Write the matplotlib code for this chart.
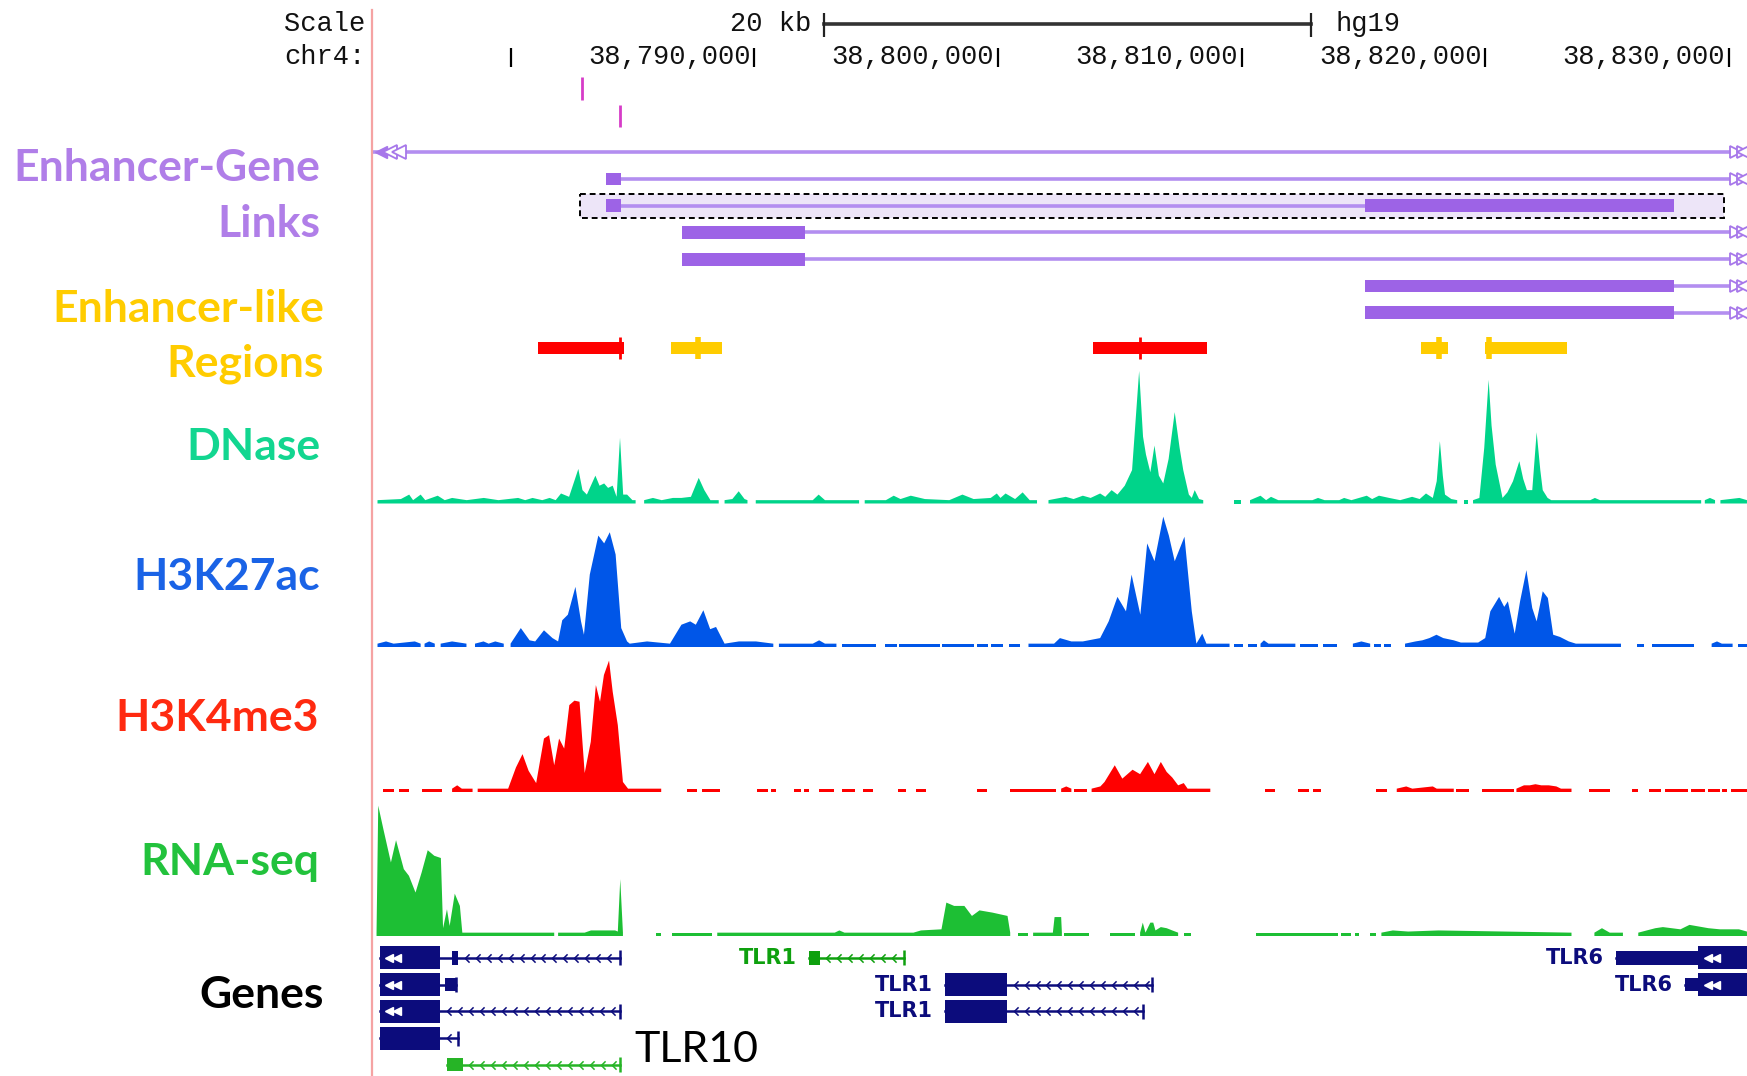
import numpy as np
import matplotlib
matplotlib.use("Agg")
import matplotlib.pyplot as plt
from matplotlib.patches import Rectangle
from matplotlib.path import Path
from matplotlib.lines import Line2D

GAP = (np.nan, np.nan)

# ---- data: positions in kb on chr4 (hg19), signal heights in track pixels ----
view_kb = (38774.314, 38830.731)
ruler_ticks = [38780, 38790, 38800, 38810, 38820, 38830]
ruler_labelled = [38790, 38800, 38810, 38820, 38830]
scale_start, scale_len = 38792.86, 20

ccre_marks = [38782.92, 38784.47]

# enhancer-gene links: one row each, box a (enhancer) -> box b (gene)
link_a0 = [38773.0, 38783.90, 38783.90, 38787.05, 38787.05, 38815.05, 38815.05]
link_a1 = [38773.5, 38784.54, 38784.54, 38792.08, 38792.08, 38827.72, 38827.72]
link_b0 = [38832.0, 38832.0, 38815.05, 38832.0, 38832.0, 38832.0, 38832.0]
link_b1 = [38833.0, 38833.0, 38827.72, 38833.0, 38833.0, 38833.0, 38833.0]
link_selected = 2
selected_span = (38782.86, 38829.78)

# enhancer-like regions
enh_start = [38781.14, 38786.58, 38803.88, 38817.35, 38819.99]
enh_end = [38784.66, 38788.68, 38808.58, 38818.45, 38823.36]
enh_peak = [38784.49, 38787.69, 38805.82, 38818.10, 38820.16]
enh_kind = ["red", "yellow", "red", "yellow", "yellow"]

dnase = [
    (38774.54, 3), (38775.5, 4), (38775.84, 8), (38776.0, 3), (38776.31, 8), (38776.5, 3),
    (38777.01, 7), (38777.3, 3), (38777.60, 5), (38778.2, 3), (38778.90, 5), (38779.5, 3),
    (38780.31, 5), (38780.6, 3), (38780.90, 5), (38781.3, 3), (38781.60, 5), (38781.85, 3),
    (38782.07, 9), (38782.4, 6), (38782.78, 31), (38782.95, 12), (38783.13, 8), (38783.48, 25),
    (38783.65, 16), (38783.84, 18), (38784.0, 14), (38784.19, 16), (38784.35, 6), (38784.49, 59),
    (38784.62, 8), (38784.78, 8), (38785.0, 3), (38785.13, 3),
    GAP,
    (38785.48, 3), (38785.84, 5), (38786.2, 3), (38786.66, 5), (38787.01, 5), (38787.4, 6),
    (38787.72, 23), (38787.95, 12), (38788.2, 3), (38788.54, 3),
    GAP,
    (38788.78, 3), (38789.1, 4), (38789.36, 11), (38789.6, 4), (38789.72, 3),
    GAP,
    (38790.06, 3), (38792.4, 3), (38792.64, 8), (38792.9, 3), (38794.30, 3),
    GAP,
    (38794.53, 3), (38795.4, 3), (38795.72, 7), (38796.0, 4), (38796.42, 7), (38797.0, 4),
    (38798.0, 3), (38798.54, 8), (38799.0, 4), (38799.7, 5), (38799.95, 9), (38800.1, 5),
    (38800.31, 9), (38800.7, 4), (38801.01, 10), (38801.3, 3), (38801.60, 3),
    GAP,
    (38802.07, 3), (38802.78, 6), (38803.1, 4), (38803.48, 7), (38803.8, 5), (38804.19, 9),
    (38804.4, 6), (38804.66, 12), (38804.9, 8), (38805.2, 16), (38805.5, 30), (38805.79, 119),
    (38805.95, 60), (38806.07, 44), (38806.25, 28), (38806.42, 52), (38806.6, 25), (38806.78, 18),
    (38807.0, 40), (38807.25, 82), (38807.45, 50), (38807.6, 30), (38807.83, 8), (38807.95, 5),
    (38808.07, 12), (38808.25, 4), (38808.42, 3),
    GAP,
    (38809.69, 3), (38809.98, 3),
    GAP,
    (38810.34, 3), (38810.77, 7), (38811.0, 3), (38811.2, 6), (38811.5, 3), (38812.9, 3),
    (38813.13, 5), (38813.4, 3), (38814.0, 3), (38814.2, 5), (38814.5, 3), (38815.13, 7),
    (38815.35, 4), (38815.63, 7), (38816.05, 5), (38816.5, 3), (38816.99, 6), (38817.3, 4),
    (38817.56, 9), (38817.84, 5), (38818.0, 20), (38818.13, 56), (38818.25, 25), (38818.34, 8),
    (38818.6, 4), (38818.84, 3),
    GAP,
    (38819.13, 3), (38819.27, 3),
    GAP,
    (38819.49, 3), (38819.75, 5), (38819.95, 50), (38820.13, 111), (38820.25, 70), (38820.42, 35),
    (38820.7, 5), (38820.9, 10), (38821.13, 20), (38821.39, 38), (38821.55, 22), (38821.7, 12),
    (38821.92, 12), (38822.1, 64), (38822.25, 30), (38822.35, 12), (38822.55, 5), (38822.7, 3),
    (38824.3, 3), (38824.49, 5), (38824.7, 3), (38828.85, 3),
    GAP,
    (38829.0, 3), (38829.21, 5), (38829.42, 3),
    GAP,
    (38829.64, 3), (38830.42, 5), (38830.73, 3),
]

h3k27ac = [
    (38774.54, 3), (38774.89, 5), (38775.2, 3), (38776.07, 5), (38776.31, 3),
    GAP,
    (38776.47, 3), (38776.66, 5), (38776.89, 3),
    GAP,
    (38777.13, 3), (38777.60, 5), (38778.19, 3),
    GAP,
    (38778.54, 3), (38778.89, 5), (38779.1, 3), (38779.37, 5), (38779.72, 3),
    GAP,
    (38780.0, 3), (38780.42, 17), (38780.78, 6), (38781.01, 5), (38781.37, 15), (38781.72, 8),
    (38781.95, 5), (38782.12, 24), (38782.35, 29), (38782.66, 54), (38782.89, 23), (38783.01, 11),
    (38783.25, 65), (38783.6, 100), (38783.84, 93), (38784.07, 103), (38784.31, 83), (38784.54, 17),
    (38784.78, 5), (38784.89, 3), (38785.6, 5), (38786.54, 3), (38787.01, 20), (38787.37, 23),
    (38787.6, 20), (38787.91, 33), (38788.19, 16), (38788.43, 18), (38788.78, 3), (38789.37, 5),
    (38790.07, 5), (38790.78, 3),
    GAP,
    (38791.01, 3), (38792.4, 3), (38792.66, 6), (38792.9, 3), (38793.37, 3),
    GAP,
    (38793.60, 3), (38795.01, 3),
    GAP,
    (38795.37, 3), (38795.84, 3),
    GAP,
    (38795.95, 3), (38797.6, 3),
    GAP,
    (38797.72, 3), (38799.01, 3),
    GAP,
    (38799.13, 3), (38799.6, 3),
    GAP,
    (38799.72, 3), (38800.19, 3),
    GAP,
    (38800.43, 3), (38800.9, 3),
    GAP,
    (38801.25, 3), (38802.3, 3), (38802.54, 8), (38803.01, 5), (38803.48, 5), (38804.19, 8),
    (38804.54, 23), (38804.9, 45), (38805.25, 32), (38805.48, 65), (38805.84, 29), (38806.12, 93),
    (38806.42, 77), (38806.78, 117), (38807.01, 100), (38807.25, 77), (38807.65, 99), (38807.95, 32),
    (38808.14, 3), (38808.38, 12), (38808.55, 3), (38809.5, 3),
    GAP,
    (38809.69, 3), (38810.05, 3),
    GAP,
    (38810.27, 3), (38810.62, 3),
    GAP,
    (38810.77, 3), (38810.91, 6), (38811.1, 3), (38812.2, 3),
    GAP,
    (38812.41, 3), (38813.13, 3),
    GAP,
    (38813.34, 3), (38813.91, 3),
    GAP,
    (38814.56, 3), (38814.91, 5), (38815.27, 3),
    GAP,
    (38815.41, 3), (38815.70, 3),
    GAP,
    (38815.84, 3), (38816.13, 3),
    GAP,
    (38816.7, 3), (38817.13, 5), (38817.41, 6), (38817.7, 8), (38817.99, 11), (38818.27, 8),
    (38818.7, 6), (38818.99, 4), (38819.7, 4), (38819.99, 8), (38820.2, 32), (38820.56, 45),
    (38820.77, 36), (38820.92, 41), (38821.2, 12), (38821.42, 41), (38821.68, 69), (38821.92, 35),
    (38822.1, 23), (38822.35, 50), (38822.56, 44), (38822.78, 11), (38823.06, 9), (38823.42, 5),
    (38823.71, 3), (38825.56, 3),
    GAP,
    (38826.21, 3), (38826.49, 3),
    GAP,
    (38826.85, 3), (38828.57, 3),
    GAP,
    (38829.28, 3), (38829.5, 5), (38829.7, 3), (38830.14, 3),
    GAP,
    (38830.35, 3), (38830.73, 3),
]

h3k4me3 = [
    (38774.78, 3), (38775.2, 3),
    GAP,
    (38775.41, 3), (38775.83, 3),
    GAP,
    (38776.35, 3), (38777.19, 3),
    GAP,
    (38777.6, 3), (38777.81, 6), (38778.0, 3), (38778.44, 3),
    GAP,
    (38778.65, 3), (38779.9, 3), (38780.22, 22), (38780.49, 34), (38780.74, 19), (38781.05, 8),
    (38781.37, 48), (38781.58, 51), (38781.79, 24), (38781.99, 48), (38782.2, 39), (38782.41, 78),
    (38782.62, 82), (38782.83, 81), (38783.04, 17), (38783.29, 45), (38783.5, 96), (38783.67, 81),
    (38783.83, 105), (38784.04, 118), (38784.19, 90), (38784.4, 60), (38784.61, 9), (38784.82, 3),
    (38786.18, 3),
    GAP,
    (38787.22, 3), (38787.64, 3),
    GAP,
    (38787.85, 3), (38788.58, 3),
    GAP,
    (38790.11, 3), (38790.57, 3),
    GAP,
    (38790.67, 3), (38790.88, 3),
    GAP,
    (38791.61, 3), (38791.93, 3),
    GAP,
    (38792.03, 3), (38792.24, 3),
    GAP,
    (38792.66, 3), (38793.29, 3),
    GAP,
    (38793.60, 3), (38794.12, 3),
    GAP,
    (38794.44, 3), (38794.85, 3),
    GAP,
    (38795.90, 3), (38796.21, 3),
    GAP,
    (38796.63, 3), (38797.05, 3),
    GAP,
    (38799.14, 3), (38799.56, 3),
    GAP,
    (38800.5, 3), (38802.38, 3),
    GAP,
    (38802.59, 3), (38802.8, 5), (38803.01, 3),
    GAP,
    (38803.11, 3), (38803.64, 3),
    GAP,
    (38803.84, 3), (38804.2, 5), (38804.37, 9), (38804.79, 24), (38805.1, 12), (38805.52, 20),
    (38805.83, 16), (38806.15, 27), (38806.42, 16), (38806.68, 27), (38806.92, 18), (38807.15, 13),
    (38807.39, 6), (38807.62, 8), (38807.78, 3), (38808.71, 3),
    GAP,
    (38810.97, 3), (38811.36, 3),
    GAP,
    (38812.30, 3), (38812.77, 3),
    GAP,
    (38812.92, 3), (38813.24, 3),
    GAP,
    (38815.50, 3), (38815.97, 3),
    GAP,
    (38816.36, 3), (38816.75, 5), (38817.0, 3), (38817.84, 5), (38818.0, 3), (38818.70, 3),
    GAP,
    (38818.78, 3), (38819.32, 3),
    GAP,
    (38819.87, 3), (38821.19, 3),
    GAP,
    (38821.27, 3), (38821.58, 6), (38821.82, 6), (38822.05, 7), (38822.29, 6), (38822.6, 6),
    (38822.91, 5), (38823.1, 3), (38823.53, 3),
    GAP,
    (38824.24, 3), (38825.10, 3),
    GAP,
    (38826.03, 3), (38826.27, 3),
    GAP,
    (38826.73, 3), (38827.20, 3),
    GAP,
    (38827.36, 3), (38828.29, 3),
    GAP,
    (38828.45, 3), (38828.99, 3),
    GAP,
    (38829.15, 3), (38829.62, 3),
    GAP,
    (38829.70, 3), (38829.93, 3),
    GAP,
    (38830.09, 3), (38830.73, 3),
]

rnaseq = [
    (38774.50, 3), (38774.57, 117), (38774.78, 96), (38775.09, 66), (38775.30, 86), (38775.62, 60),
    (38775.83, 54), (38776.10, 39), (38776.35, 57), (38776.60, 77), (38776.87, 72), (38777.14, 70),
    (38777.23, 7), (38777.39, 24), (38777.50, 9), (38777.71, 38), (38777.92, 27), (38778.02, 3),
    (38781.79, 3),
    GAP,
    (38781.95, 3), (38783.04, 3), (38783.3, 5), (38784.29, 5), (38784.40, 4), (38784.50, 51),
    (38784.61, 3),
    GAP,
    (38785.97, 3), (38786.18, 3),
    GAP,
    (38786.64, 3), (38788.27, 3),
    GAP,
    (38788.48, 3), (38793.3, 3), (38793.49, 5), (38793.7, 3), (38796.53, 3), (38796.84, 5),
    (38797.68, 6), (38797.88, 30), (38798.2, 27), (38798.62, 27), (38798.93, 18), (38799.24, 23),
    (38799.77, 21), (38800.39, 18), (38800.5, 3),
    GAP,
    (38800.81, 3), (38801.23, 3),
    GAP,
    (38801.44, 3), (38802.25, 3), (38802.32, 17), (38802.59, 17), (38802.62, 3),
    GAP,
    (38802.69, 3), (38803.74, 3),
    GAP,
    (38804.58, 3), (38805.62, 3),
    GAP,
    (38805.83, 3), (38805.94, 12), (38806.05, 3), (38806.25, 12), (38806.37, 12), (38806.46, 5),
    (38806.68, 8), (38806.92, 7), (38807.15, 5), (38807.39, 3),
    GAP,
    (38807.62, 3), (38807.93, 3),
    GAP,
    (38810.58, 3), (38813.94, 3),
    GAP,
    (38814.09, 3), (38814.48, 3),
    GAP,
    (38814.64, 3), (38814.80, 3),
    GAP,
    (38815.27, 3), (38815.50, 3),
    GAP,
    (38815.73, 3), (38816.2, 5), (38816.83, 4), (38818.07, 5), (38823.53, 3),
    GAP,
    (38824.47, 3), (38824.78, 7), (38825.1, 3), (38825.64, 3),
    GAP,
    (38826.27, 3), (38826.97, 7), (38827.28, 8), (38828.0, 6), (38828.37, 10), (38829.15, 7),
    (38829.62, 6), (38830.40, 6), (38830.73, 4),
]

# genes (minus strand)
tx_row = [0, 1, 2, 3, 4, 0, 1, 2, 0, 1]
tx_start = [38774.66, 38774.66, 38774.66, 38774.66, 38777.40, 38792.23, 38797.81, 38797.81, 38825.34, 38828.17]
tx_end = [38784.49, 38777.76, 38784.49, 38777.85, 38784.49, 38796.16, 38806.31, 38805.94, 38831.5, 38831.5]
tx_thick = [[(38774.66, 38777.12)], [(38774.66, 38777.12)], [(38774.66, 38777.12)], [(38774.66, 38777.12)],
            [], [], [(38797.81, 38800.37)], [(38797.81, 38800.37)],
            [(38828.72, 38831.5)], [(38828.72, 38831.5)]]
tx_utr = [[(38777.58, 38777.85)], [(38777.31, 38777.76)], [], [], [(38777.40, 38778.04)],
          [(38792.23, 38792.68)], [], [], [(38825.34, 38828.72)], [(38828.17, 38828.72)]]
tx_label = [None, None, None, None, None, "TLR1", "TLR1", "TLR1", "TLR6", "TLR6"]
tx_kind = ["navy", "navy", "navy", "navy", "lightgreen", "green", "navy", "navy", "navy", "navy"]
tx_exon_arrows = [True, True, True, False, False, False, False, False, True, True]

track_labels = [("Enhancer-Gene", 320, 181, "#b07ee8"), ("Links", 320, 237, "#b07ee8"),
                ("Enhancer-like", 324, 322, "#ffcc00"), ("Regions", 324, 377, "#ffcc00"),
                ("DNase", 320, 460, "#12d690"), ("H3K27ac", 320, 590, "#1a63e6"),
                ("H3K4me3", 319, 731, "#ff2a10"), ("RNA-seq", 319, 875, "#22c23c"),
                ("Genes", 324, 1008, "black")]

# ---- styles ----
colors = {"navy": "#0c0c7c", "green": "#0ea00e", "lightgreen": "#26b426",
          "red": "#ff0000", "yellow": "#ffcc00"}
W, H = 1747, 1076
LEFT = 372

fig = plt.figure(figsize=(W / 100, H / 100), dpi=100)


def kb_axes(top, bottom):
    ax = fig.add_axes([LEFT / W, 1 - bottom / H, 1 - LEFT / W, (bottom - top) / H])
    ax.set_xlim(*view_kb)
    ax.axis("off")
    return ax


mono = "Liberation Mono"

# ruler
ax = kb_axes(0, 75)
ax.set_ylim(75, 0)
ax.vlines(ruler_ticks, 48, 67, color="black", lw=1.6)
for t in ruler_labelled:
    ax.annotate(f"{t * 1000:,}", (t, 64), xytext=(-4, 0), textcoords="offset pixels",
                ha="right", va="baseline", family=mono, fontsize=19.5, color="#111")
ax.plot([scale_start, scale_start + scale_len], [24, 24], color="#333", lw=2.6)
ax.vlines([scale_start, scale_start + scale_len], 13, 37, color="#222", lw=1.6)
ax.annotate(f"{scale_len} kb", (scale_start, 31), xytext=(-13, 0), textcoords="offset pixels",
            ha="right", va="baseline", family=mono, fontsize=19.5, color="#111")
ax.annotate("hg19", (scale_start + scale_len, 31), xytext=(24, 0), textcoords="offset pixels",
            ha="left", va="baseline", family=mono, fontsize=19.5, color="#111")
fig.text(365 / W, 1 - 31 / H, "Scale", ha="right", va="baseline", family=mono, fontsize=19.5, color="#111")
fig.text(365 / W, 1 - 64 / H, "chr4:", ha="right", va="baseline", family=mono, fontsize=19.5, color="#111")

# small magenta marks
ax = kb_axes(72, 132)
ax.set_ylim(1.6, -0.6)
for i, p in enumerate(ccre_marks):
    ax.vlines(p, i - 0.4, i + 0.42, color="#d63cc8", lw=2)

# enhancer-gene links
ax = kb_axes(139, 326)
ax.set_ylim(6.5, -0.5)
ax.add_patch(Rectangle((selected_span[0], link_selected - 0.45), selected_span[1] - selected_span[0], 0.9,
                       facecolor="#ede5f8", edgecolor="black", lw=1.4, ls=(0, (3, 2)), zorder=0))
for i in range(len(link_a0)):
    ax.plot([link_a1[i], link_b0[i]], [i, i], color="#b38ef0", lw=2.6, solid_capstyle="butt", zorder=2)
    for x0, x1 in [(link_a0[i], link_a1[i]), (link_b0[i], link_b1[i])]:
        ax.add_patch(Rectangle((x0, i - 0.24), x1 - x0, 0.48, color="#9d63e6", lw=0, zorder=3))
    if link_b0[i] > view_kb[1]:
        ax.plot([view_kb[1] - 0.45, view_kb[1] - 0.15], [i, i], ls="none", marker=">", ms=9,
                mfc="white", mec="#a777ea", mew=1.3, zorder=4, clip_on=False)
        ax.plot([view_kb[1] - 0.15], [i], ls="none", marker="<", ms=9,
                mfc="white", mec="#a777ea", mew=1.3, zorder=4, clip_on=False)
    if link_a1[i] < view_kb[0]:
        ax.plot([view_kb[0] + 0.35], [i], ls="none", marker="<", ms=8, color="#a777ea", zorder=4)
        ax.plot([view_kb[0] + 0.75, view_kb[0] + 1.1], [i, i], ls="none", marker="<", ms=10,
                mfc="white", mec="#a777ea", mew=1.3, zorder=4)

# enhancer-like regions
ax = kb_axes(334, 362)
ax.set_ylim(0.5, -0.5)
for s, e, p, k in zip(enh_start, enh_end, enh_peak, enh_kind):
    ax.add_patch(Rectangle((s, -0.21), e - s, 0.42, color=colors[k], lw=0))
    ax.vlines(p, -0.38, 0.38, color=colors[k], lw=2 if k == "red" else 4)

# signal tracks
for data, base, col in [(dnase, 503.5, "#00d48a"), (h3k27ac, 647, "#0056e8"),
                        (h3k4me3, 792, "#ff0000"), (rnaseq, 936, "#1dbf34")]:
    ax = kb_axes(base - 140, base)
    ax.set_ylim(0, 140 * 0.8975)
    arr = np.array(data, dtype=float)
    ax.fill_between(arr[:, 0], 0, arr[:, 1], color=col, lw=0)

# genes
ax = kb_axes(944.6, 1076)
ax.set_ylim(4.42, -0.5)
chev = Path([(0.5, 1), (-0.5, 0), (0.5, -1)], [Path.MOVETO, Path.LINETO, Path.LINETO])
for i in range(len(tx_row)):
    r, c = tx_row[i], colors[tx_kind[i]]
    ax.plot([tx_start[i], tx_end[i]], [r, r], color=c, lw=1.8, zorder=2)
    boxes = sorted(tx_thick[i] + tx_utr[i])
    for x0, x1 in tx_thick[i]:
        ax.add_patch(Rectangle((x0, r - 0.43), x1 - x0, 0.86, color=c, lw=0, zorder=3))
    for x0, x1 in tx_utr[i]:
        ax.add_patch(Rectangle((x0, r - 0.25), x1 - x0, 0.5, color=c, lw=0, zorder=3))
    # strand chevrons on the bare stretches
    edges = [tx_start[i]] + [v for b in boxes for v in b] + [tx_end[i]]
    for a, b in zip(edges[0::2], edges[1::2]):
        if b - a > 0.7:
            xs = np.arange(a + 0.35, b - 0.15, 0.45)
            ax.plot(xs, [r] * len(xs), ls="none", marker=chev, ms=6, mfc="none", mec=c, mew=1.1, zorder=4)
    if tx_end[i] < view_kb[1]:
        ax.vlines(tx_end[i], r - 0.28, r + 0.28, color=c, lw=1.8, zorder=4)
    if tx_exon_arrows[i]:
        for x0, x1 in tx_thick[i]:
            ax.plot([x0 + 0.4, x0 + 0.75] if x0 > 38820 else [x0 + 0.35, x0 + 0.7], [r, r], ls="none",
                    marker="<", ms=6, color="white", zorder=5)
    if tx_label[i]:
        ax.annotate(tx_label[i], (tx_start[i], r), xytext=(-12, 0), textcoords="offset pixels",
                    ha="right", va="center", family="DejaVu Sans", fontweight="bold",
                    fontsize=15, color=c)
ax.text(38785.08, 3.88, "TLR10", ha="left", va="baseline", family="Lato", fontsize=31, color="black")

# track labels
for txt, x, y, col in track_labels:
    fig.text(x / W, 1 - y / H, txt, ha="right", va="baseline", family="Lato",
             fontweight="bold", fontsize=32, color=col)

fig.add_artist(Line2D([371.5 / W, 371.5 / W], [0, 1 - 10 / H], transform=fig.transFigure,
                      color="#f5a3a3", lw=1.6))

fig.savefig("out.png", dpi=100)
